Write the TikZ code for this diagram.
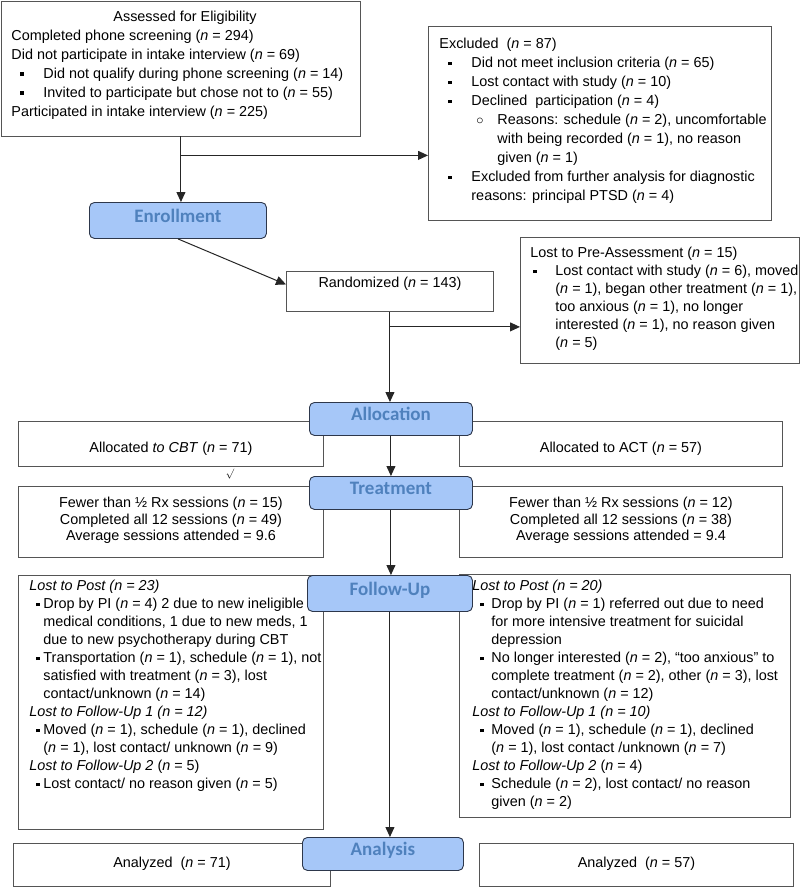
\documentclass[tikz,border=0pt]{standalone}
\usepackage{fontspec}
\setmainfont{Liberation Sans}
\newfontfamily\stagefont{Carlito}
\usetikzlibrary{arrows.meta}
\definecolor{boxline}{RGB}{85,85,85}
\definecolor{stagefill}{RGB}{166,199,248}
\definecolor{stageline}{RGB}{45,55,75}
\definecolor{stagetext}{RGB}{79,129,189}
\newcommand*{\nn}[1]{(\textit{n} = #1)}
\newcommand*{\sqb}{\rule[2.8pt]{3.4pt}{3.4pt}}
\newcommand*{\bitem}[2]{\hspace*{#1}\makebox[#2][l]{\sqb}}
% width, height, left pad, top pad, lines
\newcommand*{\lefttxt}[5]{\parbox[c][#2][t]{#1}{\vspace*{#4}\leftskip=#3\relax\rightskip=-30pt plus 1fil\relax #5}}
\newcommand*{\midtxt}[4]{\parbox[c][#2][t]{#1}{\vspace*{#3}\centering #4}}

\begin{document}
\begin{tikzpicture}[x=1pt, y=-1pt,
  font=\fontsize{14.4}{19}\selectfont,
  box/.style={draw=boxline, line width=0.9pt, fill=white, inner sep=0pt, anchor=north west},
  stage/.style={draw=stageline, line width=0.9pt, fill=stagefill, rounded corners=5pt,
    inner sep=0pt, anchor=north west, text=stagetext,
    font=\stagefont\bfseries\fontsize{19}{19}\selectfont, text height=13pt, text depth=9pt},
  arr/.style={-{Triangle[length=10pt,width=9pt]}, line width=1pt, draw=black!85}]

\useasboundingbox (0,0) rectangle (800,887);

\node[box] (assess) at (1,0.5) {\lefttxt{359pt}{135pt}{10pt}{10pt}{%
  \hspace*{102pt}Assessed for Eligibility\\
  Completed phone screening \nn{294}\\
  Did not participate in intake interview \nn{69}\\
  \bitem{9pt}{23pt}Did not qualify during phone screening \nn{14}\\
  \bitem{9pt}{23pt}Invited to participate but chose not to \nn{55}\\
  Participated in intake interview \nn{225}}};

\node[box] (excluded) at (428,26) {\lefttxt{343pt}{194pt}{11pt}{12pt}{%
  Excluded\ \ \nn{87}\\
  \bitem{9pt}{23pt}Did not meet inclusion criteria \nn{65}\\
  \bitem{9pt}{23pt}Lost contact with study \nn{10}\\
  \bitem{9pt}{23pt}Declined\ \ participation \nn{4}\\
  \hspace*{37pt}\makebox[21pt][l]{$\circ$}Reasons: schedule \nn{2}, uncomfortable\\
  \hspace*{58pt}with being recorded \nn{1}, no reason\\
  \hspace*{58pt}given \nn{1}\\
  \bitem{9pt}{23pt}Excluded from further analysis for diagnostic\\
  \hspace*{32pt}reasons: principal PTSD \nn{4}}};

\node[box] (random) at (286,271) {\midtxt{207pt}{40pt}{6pt}{Randomized \nn{143}}};

\node[box, font=\fontsize{14.4}{18}\selectfont] (lostpre) at (520,237) {\lefttxt{279pt}{126pt}{10pt}{10pt}{%
  Lost to Pre-Assessment \nn{15}\\
  \bitem{3pt}{22pt}Lost contact with study \nn{6}, moved\\
  \hspace*{25pt}\nn{1}, began other treatment \nn{1},\\
  \hspace*{25pt}too anxious \nn{1}, no longer\\
  \hspace*{25pt}interested \nn{1}, no reason given\\
  \hspace*{25pt}\nn{5}}};

\node[box] (cbtalloc) at (18,421) {\midtxt{305pt}{45pt}{21pt}{Allocated \textit{to CBT} \nn{71}}};
\node[box] (actalloc) at (459,421) {\midtxt{323pt}{45pt}{21pt}{Allocated to ACT \nn{57}}};

\node[box, font=\fontsize{14.4}{16.5}\selectfont] (cbttreat) at (18,486) {\midtxt{305pt}{71pt}{11pt}{%
  Fewer than ½ Rx sessions \nn{15}\\
  Completed all 12 sessions \nn{49}\\
  Average sessions attended = 9.6}};
\node[box, font=\fontsize{14.4}{16.5}\selectfont] (acttreat) at (459,486) {\midtxt{323pt}{71pt}{11pt}{%
  Fewer than ½ Rx sessions \nn{12}\\
  Completed all 12 sessions \nn{38}\\
  Average sessions attended = 9.4}};

\node[box, font=\fontsize{14.4}{18}\selectfont] (cbtfu) at (18,575) {\lefttxt{305pt}{254pt}{11pt}{5pt}{%
  \textit{Lost to Post (n = 23)}\\
  \bitem{7pt}{7pt}Drop by PI \nn{4} 2 due to new ineligible\\
  \hspace*{14pt}medical conditions, 1 due to new meds, 1\\
  \hspace*{14pt}due to new psychotherapy during CBT\\
  \bitem{7pt}{7pt}Transportation \nn{1}, schedule \nn{1}, not\\
  \hspace*{14pt}satisfied with treatment \nn{3}, lost\\
  \hspace*{14pt}contact/unknown \nn{14}\\
  \textit{Lost to Follow-Up 1 (n = 12)}\\
  \bitem{7pt}{7pt}Moved \nn{1}, schedule \nn{1}, declined\\
  \hspace*{14pt}\nn{1}, lost contact/ unknown \nn{9}\\
  \textit{Lost to Follow-Up 2} \nn{5}\\
  \bitem{7pt}{7pt}Lost contact/ no reason given \nn{5}}};

\node[box, font=\fontsize{14.4}{18}\selectfont] (actfu) at (459,574) {\lefttxt{331pt}{243pt}{13pt}{6pt}{%
  \textit{Lost to Post (n = 20)}\\
  \bitem{8pt}{11pt}Drop by PI \nn{1} referred out due to need\\
  \hspace*{19pt}for more intensive treatment for suicidal\\
  \hspace*{19pt}depression\\
  \bitem{8pt}{11pt}No longer interested \nn{2}, ``too anxious'' to\\
  \hspace*{19pt}complete treatment \nn{2}, other \nn{3}, lost\\
  \hspace*{19pt}contact/unknown \nn{12}\\
  \textit{Lost to Follow-Up 1 (n = 10)}\\
  \bitem{8pt}{11pt}Moved \nn{1}, schedule \nn{1}, declined\\
  \hspace*{19pt}\nn{1}, lost contact /unknown \nn{7}\\
  \textit{Lost to Follow-Up 2} \nn{4}\\
  \bitem{8pt}{11pt}Schedule \nn{2}, lost contact/ no reason\\
  \hspace*{19pt}given \nn{2}}};

\node[box] (cbtana) at (13,843) {\midtxt{317pt}{43pt}{14pt}{Analyzed\ \ \nn{71}}};
\node[box] (actana) at (479,843) {\midtxt{314pt}{43pt}{14pt}{Analyzed\ \ \nn{57}}};

\node[inner sep=0pt, font=\fontsize{10}{10}\selectfont] (stray) at (230,474) {$\surd$};

% stage labels
\node[stage, minimum width=177pt, minimum height=36pt] (enroll) at (89,202) {Enrollment};
\node[stage, minimum width=163pt, minimum height=33pt] (alloc) at (309,402) {Allocation};
\node[stage, minimum width=163pt, minimum height=33pt] (treat) at (309,476) {Treatment};
\node[stage, minimum width=165pt, minimum height=36pt] (fu) at (307,575) {Follow-Up};
\node[stage, minimum width=161pt, minimum height=33pt] (analysis) at (302,837) {Analysis};

\draw[arr] (assess.south) -- (assess.south |- enroll.north);
\coordinate (exbr) at ([yshift=-19pt]assess.south);
\draw[arr] (exbr) -- (exbr -| excluded.west);
\draw[arr] (enroll.south) -- ([yshift=7pt]random.west);
\draw[arr] (random.south) -- (random.south |- alloc.north);
\coordinate (prebr) at ([yshift=-15pt]random.south);
\draw[arr] (prebr) -- (prebr -| lostpre.west);
\draw[arr] (alloc.south) -- (treat.north);
\draw[arr] (treat.south) -- (treat.south |- fu.north);
\draw[arr] (fu.south) -- (fu.south |- analysis.north);
\end{tikzpicture}
\end{document}
